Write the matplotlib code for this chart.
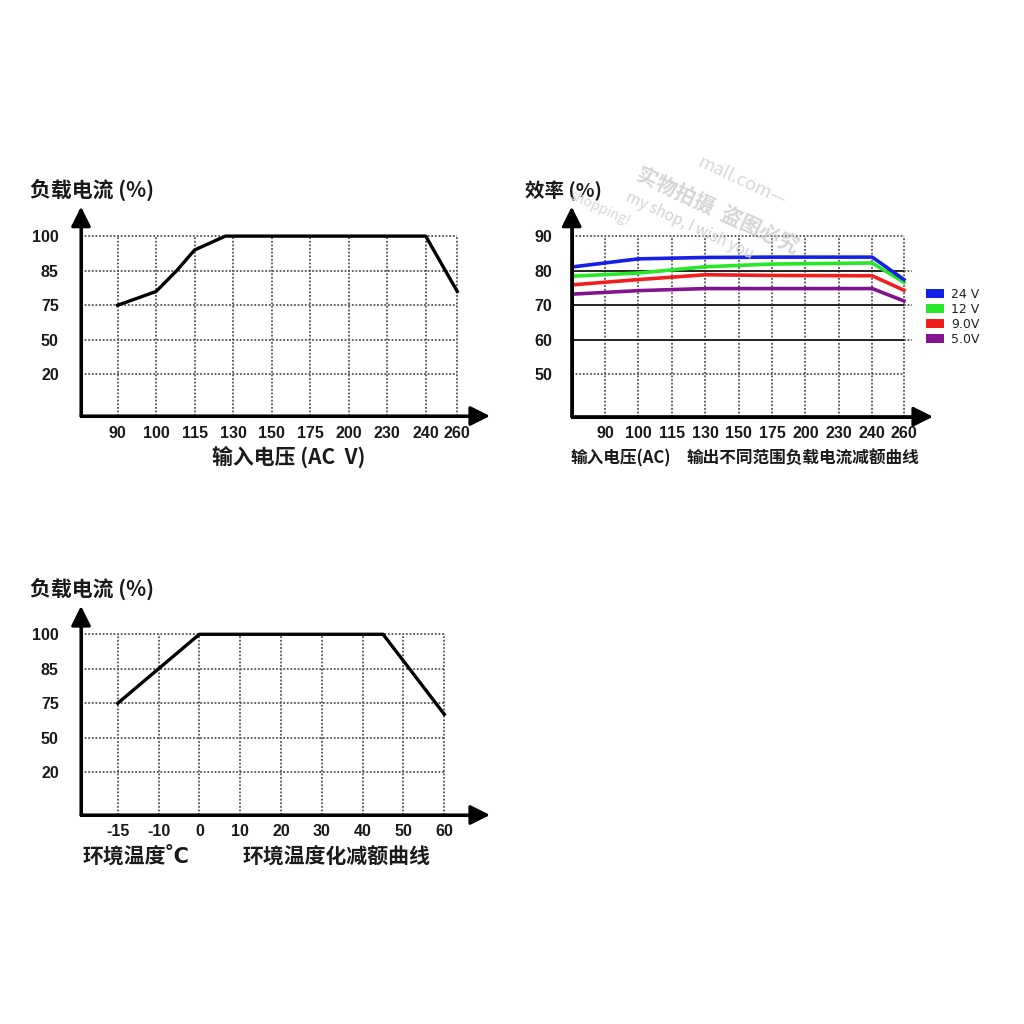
import matplotlib.pyplot as plt
import numpy as np
from matplotlib.patches import Patch

plt.rcParams['font.family'] = ['Liberation Sans', 'Noto Sans CJK SC', 'DejaVu Sans']

# 输入电压 - 负载电流
volt_ticks = [90, 100, 115, 130, 150, 175, 200, 230, 240, 260]
load_ticks = [20, 50, 75, 85, 100]
volt_curve_x = [90, 100, 108, 115, 127, 240, 260]
volt_curve_y = [75, 79, 85, 94, 100, 100, 79]

# 效率 (80 = 曲线从纵轴开始)
eff_ticks = [50, 60, 70, 80, 90]
eff_x = [80, 100, 130, 175, 240, 260]
eff_24v = [81.1, 83.4, 83.8, 83.9, 83.9, 77.4]
eff_12v = [78.4, 79.3, 81.1, 81.9, 82.2, 76.6]
eff_9v = [75.9, 77.4, 78.8, 78.6, 78.5, 74.3]
eff_5v = [73.2, 74.2, 74.8, 74.8, 74.8, 71.2]
eff_labels = ['24 V', '12 V', '9.0V', '5.0V']
eff_colors = ['#1420e6', '#28e628', '#f01e1e', '#82148f']

# 环境温度 - 负载电流
temp_ticks = [-15, -10, 0, 10, 20, 30, 40, 50, 60]
temp_curve_x = [-15, 0, 45, 60]
temp_curve_y = [75, 100, 100, 67]

fig = plt.figure(figsize=(10.24, 10.24), dpi=100)


def px_axes(x0, y0, x1, y1):
    # 像素坐标(左上角为原点) -> figure 坐标
    ax = fig.add_axes([x0 / 1024, 1 - y1 / 1024, (x1 - x0) / 1024, (y1 - y0) / 1024])
    for s in ax.spines.values():
        s.set_visible(False)
    ax.patch.set_alpha(0)
    return ax


def ptxt(x, y, s, size, ha='left', **kw):
    kw.setdefault('weight', 'bold')
    kw.setdefault('color', '#1a1a1a')
    kw.setdefault('family', ['Noto Sans CJK SC', 'DejaVu Sans'])
    fig.text(x / 1024, 1 - y / 1024, s, fontsize=size, ha=ha, va='center', **kw)


def draw_frame(ax, x0, y0, x1, y1):
    ax.set_xlim(x0, x1)
    ax.set_ylim(y0, y1)
    ax.plot([x0, x0, x1 * 0.98], [y1 * 0.98 + y0 * 0.02, y0, y0], color='black', lw=2.2,
            solid_joinstyle='miter', clip_on=False, zorder=5)
    style = '-|>,head_length=1.0,head_width=0.5'
    for tip in [(x1, y0), (x0, y1)]:
        ax.annotate('', xy=tip, xytext=(x0, y0), annotation_clip=False,
                    arrowprops=dict(arrowstyle=style, mutation_scale=12, lw=2.2, color='black',
                                    shrinkA=0, shrinkB=0), zorder=5)


def dotted_grid(ax, xs, ys, x0, y0, xr, yt):
    ax.vlines(xs, y0, yt, colors='#555555', linestyles=(0, (1, 1)), lw=1.3)
    ax.hlines(ys, x0, xr, colors='#555555', linestyles=(0, (1, 1)), lw=1.3)


def set_ticks(ax, xs, xl, ys, yl, ypad, xpad):
    ax.set_xticks(xs, [str(v) for v in xl])
    ax.set_yticks(ys, [str(v) for v in yl])
    ax.tick_params(axis='y', length=0, pad=ypad, labelsize=11.5, labelcolor='#1a1a1a')
    ax.tick_params(axis='x', length=0, pad=xpad, labelsize=11.5, labelcolor='#1a1a1a')
    for t in ax.get_xticklabels() + ax.get_yticklabels():
        t.set_fontweight('bold')


# ---------- 左上: 输入电压 ----------
ax1 = px_axes(81, 206.7, 490, 416)
xpos1 = np.r_[np.arange(9) + 0.95, 9.77]
ypos1 = np.arange(5) + 1.2
dotted_grid(ax1, xpos1, ypos1, 0, 0, xpos1[-1], ypos1[-1])
ax1.plot(np.interp(volt_curve_x, volt_ticks, xpos1), np.interp(volt_curve_y, load_ticks, ypos1),
         color='black', lw=2.4, zorder=4)
draw_frame(ax1, 0, 0, 10.62, 6.05)
set_ticks(ax1, xpos1, volt_ticks, ypos1, load_ticks, 16, 7)
ptxt(30, 190, '负载电流 (%)', 15)
ptxt(212, 457, '输入电压 (AC  V)', 15)

# ---------- 右上: 效率 ----------
ax2 = px_axes(571.7, 206.7, 933, 416.7)
xpos2 = np.r_[np.arange(1, 10), 9.95]
ax2.vlines(xpos2, 37.7, 90, colors='#555555', linestyles=(0, (1, 1)), lw=1.3)
ax2.hlines([50, 90], 0, xpos2[-1], colors='#555555', linestyles=(0, (1, 1)), lw=1.3)
ax2.hlines([60, 70, 80], 0, xpos2[-1], colors='#222222', lw=1.4)
ax2.hlines([60, 70, 80], xpos2[-1], xpos2[-1] + 0.25, colors='#555555',
           linestyles=(0, (1, 1)), lw=1.3, clip_on=False)
ex = np.interp(eff_x, [80] + volt_ticks, np.r_[0.05, xpos2])
for ys, c in zip([eff_5v, eff_9v, eff_12v, eff_24v], eff_colors[::-1]):
    ax2.plot(ex, ys, color=c, lw=2.6, zorder=4)
draw_frame(ax2, 0, 37.7, 10.82, 98.5)
set_ticks(ax2, xpos2, volt_ticks, eff_ticks, eff_ticks, 14, 7)
ax2.legend(handles=[Patch(facecolor=c, label=l) for c, l in zip(eff_colors, eff_labels)],
           loc='upper left', bbox_to_anchor=(926 / 1024, 1 - 288 / 1024),
           bbox_transform=fig.transFigure, frameon=False, borderpad=0, borderaxespad=0,
           prop=dict(family='DejaVu Sans', size=9), handlelength=1.45, handleheight=0.75,
           labelspacing=0.15, handletextpad=0.55, labelcolor='#222222')
ptxt(525, 191, '效率 (%)', 14)
ptxt(570, 458, '输入电压(AC)', 12)
ptxt(686, 458, '输出不同范围负载电流减额曲线', 12)

# 水印
ptxt(718, 210, '实物拍摄  盗图必究', 15, ha='center', rotation=-25, color='#c4c4c4', alpha=0.7)
ptxt(742, 182, 'mall.com—', 13, ha='center', rotation=-25, color='#d8d8d8', weight='normal')
ptxt(690, 226, 'my shop, I wish you', 11, ha='center', rotation=-25, color='#d2d2d2',
     weight='normal')
ptxt(600, 208, 'shopping!', 10, ha='center', rotation=-25, color='#d8d8d8', weight='normal')

# ---------- 左下: 环境温度 ----------
ax3 = px_axes(81, 606, 490, 815)
xpos3 = np.arange(9) + 0.9
ypos3 = np.arange(5) + 1.24
dotted_grid(ax3, xpos3, ypos3, 0, 0, xpos3[-1], ypos3[-1])
ax3.plot(np.interp(temp_curve_x, temp_ticks, xpos3), np.interp(temp_curve_y, load_ticks, ypos3),
         color='black', lw=2.4, zorder=4)
draw_frame(ax3, 0, 0, 10.02, 6.06)
set_ticks(ax3, xpos3, temp_ticks, ypos3, load_ticks, 16, 6.5)
ptxt(30, 589, '负载电流 (%)', 15)
ptxt(83, 857, '环境温度', 15)
ptxt(164, 857, '˚C', 15, family=['DejaVu Sans'])
ptxt(243, 857, '环境温度化减额曲线', 15)

fig.savefig('out.png', dpi=100, facecolor='white')
